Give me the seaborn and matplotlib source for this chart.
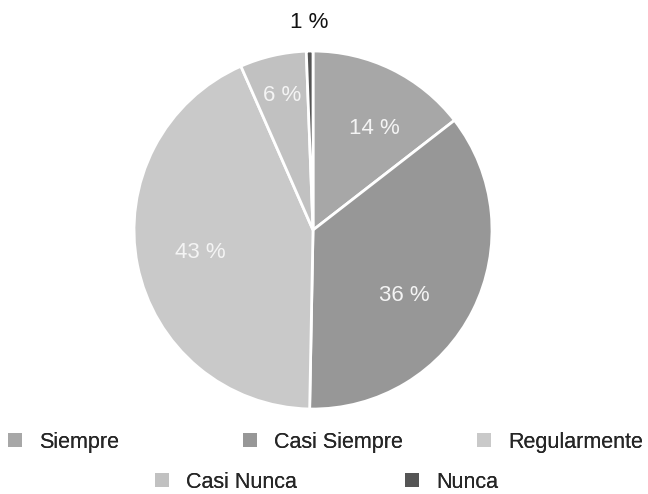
import numpy as np
import matplotlib
matplotlib.use("Agg")
import matplotlib.pyplot as plt
from matplotlib.patches import Patch
import seaborn as sns

# data
categories = ["Siempre", "Casi Siempre", "Regularmente", "Casi Nunca", "Nunca"]
shares = [14.5, 35.8, 43.1, 6.0, 0.6]
pct_labels = ["14 %", "36 %", "43 %", "6 %", "1 %"]
colors = ["#a7a7a7", "#979797", "#c9c9c9", "#c1c1c1", "#555555"]

sns.set_theme(style="white")
plt.rcParams["font.family"] = ["Liberation Sans", "DejaVu Sans"]

fig = plt.figure(figsize=(6.48, 4.94), dpi=100)
ax = fig.add_axes([0.2068, 0.172, 0.5525, 0.7247])

label_iter = iter(pct_labels)
wedges, _, autotexts = ax.pie(
    shares, colors=colors, startangle=90, counterclock=False,
    autopct=lambda p: next(label_iter), pctdistance=0.65,
    wedgeprops=dict(edgecolor="white", linewidth=2),
    textprops=dict(color="#f4f4f4", fontsize=16),
)
ax.set_xlim(-1, 1)
ax.set_ylim(-1, 1)

# label placement tweaks (radius, angle shift in degrees, clockwise)
label_r = [0.66, 0.63, 0.64, 0.77, 1.16]
label_shift = [5, 9, 0, 0, 0]
for w, t, r, s in zip(wedges, autotexts, label_r, label_shift):
    ang = np.deg2rad((w.theta1 + w.theta2) / 2 - s)
    t.set_position((r * np.cos(ang), r * np.sin(ang)))
autotexts[-1].set_color("#111111")

# legend laid out as two centred rows
legend_pos = [(8, 442), (243, 442), (477, 442), (155, 482), (405, 482)]
W, H = 648, 494
for c, name, (px, py) in zip(colors, categories, legend_pos):
    leg = fig.legend([Patch(facecolor=c, edgecolor="none")], [name],
                     loc="center left", bbox_to_anchor=(px / W, 1 - py / H),
                     frameon=False, fontsize=15.5, borderpad=0, borderaxespad=0,
                     handlelength=0.63, handleheight=0.63, handletextpad=0.8)
    fig.add_artist(leg)

fig.savefig("out.png", dpi=100)
